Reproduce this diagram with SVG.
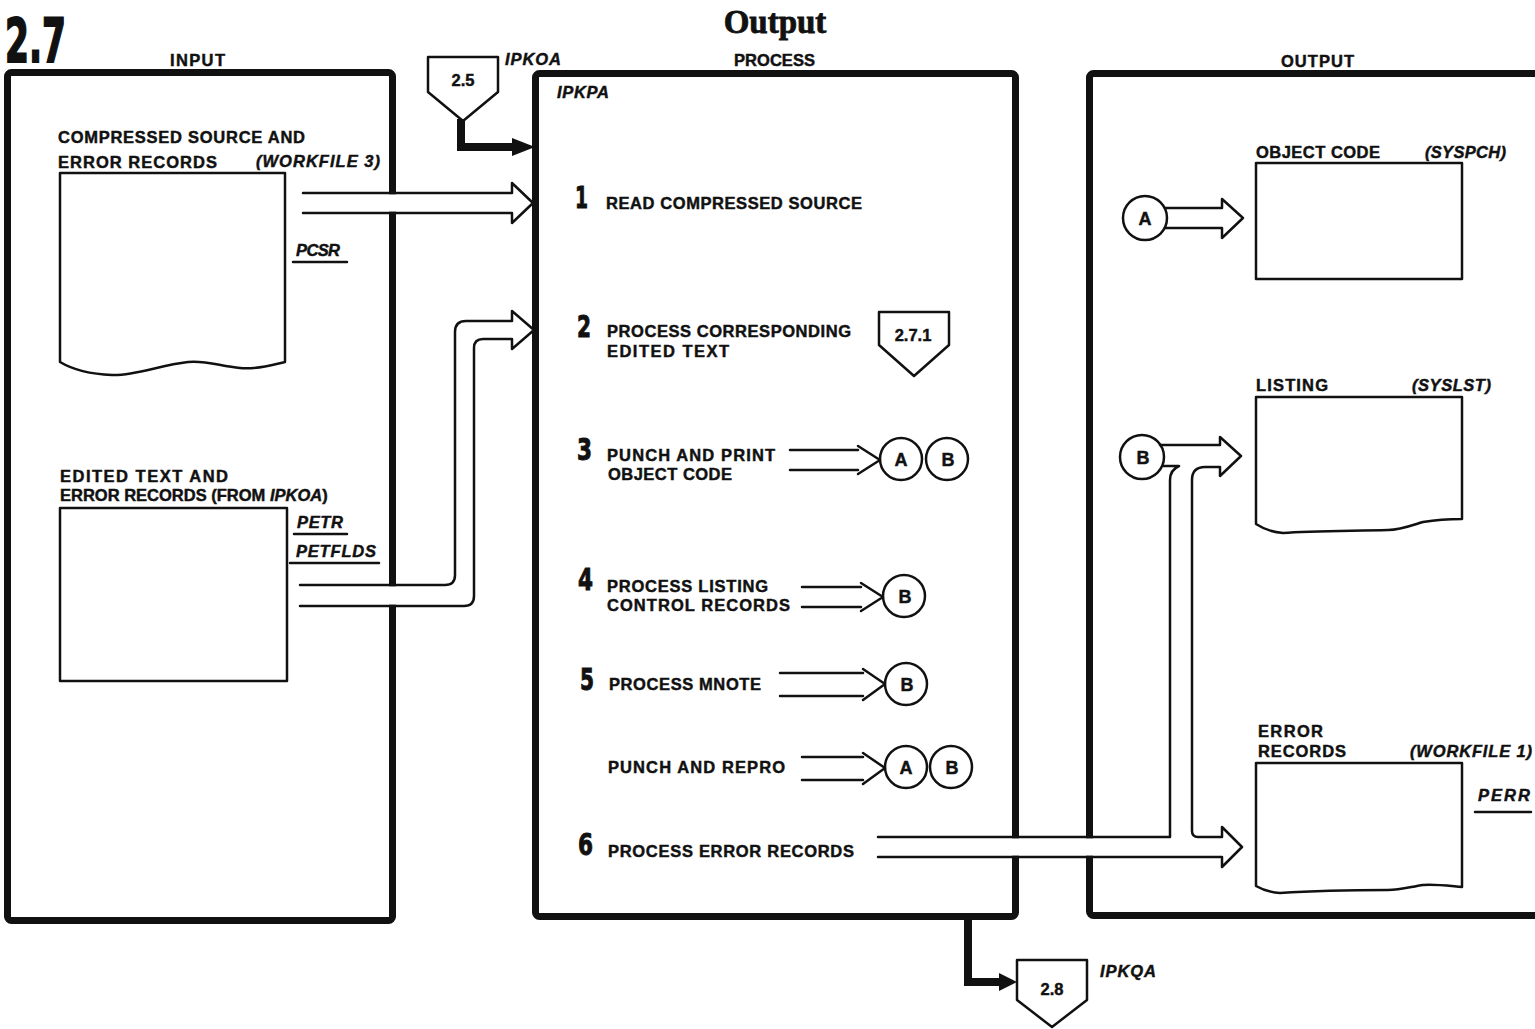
<svg xmlns="http://www.w3.org/2000/svg" width="1535" height="1029" viewBox="0 0 1535 1029">
<style>
.t{font-family:"Liberation Sans",Arial,sans-serif;font-weight:bold;font-size:16.5px;fill:#111;stroke:#111;stroke-width:0.45px}
.i{font-style:italic}
.num{font-family:"DejaVu Sans","Liberation Sans",sans-serif;font-weight:bold;fill:#111;stroke:#111;stroke-width:1px}
.ttl{font-family:"Liberation Serif","Times New Roman",serif;font-weight:bold;font-size:33px;fill:#111;stroke:#111;stroke-width:0.8px}
.box{fill:none;stroke:#111;stroke-width:7}
.ln{fill:none;stroke:#111;stroke-width:2.5;stroke-linejoin:round;stroke-linecap:round}
.doc{fill:#fff;stroke:#111;stroke-width:2.5;stroke-linejoin:round}
.thick{fill:none;stroke:#111;stroke-width:8;stroke-linejoin:miter}
.cut{fill:#fff;stroke:none}
.c{text-anchor:middle}
.L{font-size:18px}
</style>

<g id="titles">
<text class="num" x="5" y="62" font-size="60" textLength="61" lengthAdjust="spacingAndGlyphs" style="stroke-width:2px">2.7</text>
<text class="ttl c" x="775" y="33">Output</text>
<text class="t" x="170" y="66" font-size="15" textLength="55">INPUT</text>
<text class="t" x="734" y="66" font-size="15" textLength="81">PROCESS</text>
<text class="t" x="1281" y="67" font-size="15" textLength="73">OUTPUT</text>
</g>

<g id="input-box">
<rect class="box" x="7.5" y="72.5" width="385" height="848" rx="4"/>
<rect class="cut" x="384" y="194.3" width="17" height="17.4"/>
<rect class="cut" x="384" y="586.3" width="17" height="18.4"/>
</g>
<g id="process-box">
<rect class="box" x="535.5" y="73.5" width="480" height="843" rx="4"/>
<rect class="cut" x="1007" y="838.3" width="17" height="17.4"/>
<text class="t i" x="557" y="98" textLength="52">IPKPA</text>
</g>
<g id="output-box">
<rect class="box" x="1089.5" y="73.5" width="500" height="842" rx="4"/>
<rect class="cut" x="1081" y="838.3" width="17" height="17.4"/>
</g>

<g id="compressed-source">
<text class="t" x="58" y="143" textLength="247">COMPRESSED SOURCE AND</text>
<text class="t" x="58" y="168" textLength="159">ERROR RECORDS</text>
<text class="t i" x="256" y="167" textLength="124">(WORKFILE 3)</text>
<path class="doc" d="M60,173 H285 V362 C275,364 258,370 240,368 C220,366 205,360 188,362 C160,365 135,376 112,375 C88,374 70,368 60,362 Z"/>
<text class="t i" x="296" y="256" textLength="44">PCSR</text>
<line class="ln" x1="293" y1="262" x2="347" y2="262"/>
</g>

<g id="edited-text">
<text class="t" x="60" y="482" textLength="168">EDITED TEXT AND</text>
<text class="t" x="60" y="501"><tspan>ERROR RECORDS (FROM </tspan><tspan class="i">IPKOA</tspan><tspan>)</tspan></text>
<rect class="doc" x="60" y="508" width="227" height="173"/>
<text class="t i" x="297" y="528" textLength="46">PETR</text>
<line class="ln" x1="294" y1="534" x2="347" y2="534"/>
<text class="t i" x="296" y="557" textLength="80">PETFLDS</text>
<line class="ln" x1="290" y1="563" x2="379" y2="563"/>
</g>

<g id="conn-2-5">
<path class="doc" d="M428,57 H498 V92 L463,121 L428,92 Z"/>
<text class="t c" x="463" y="86" font-size="15">2.5</text>
<text class="t i" x="505" y="65" textLength="56">IPKOA</text>
</g>

<g id="conn-2-7-1">
<path class="doc" d="M879,312 H949 V345 L914,376 L879,345 Z"/>
<text class="t c" x="913" y="341" font-size="15">2.7.1</text>
</g>

<g id="conn-2-8">
<path class="doc" d="M1017,960 H1087 V1000 L1052,1027 L1017,1000 Z"/>
<text class="t c" x="1052" y="995" font-size="15">2.8</text>
<text class="t i" x="1100" y="977" textLength="56">IPKQA</text>
</g>

<g id="step1">
<text class="num" x="575" y="208" font-size="30" textLength="13" lengthAdjust="spacingAndGlyphs">1</text>
<text class="t" x="606" y="209" textLength="256">READ COMPRESSED SOURCE</text>
</g>
<g id="step2">
<text class="num" x="577" y="337" font-size="30" textLength="14" lengthAdjust="spacingAndGlyphs">2</text>
<text class="t" x="607" y="337" textLength="244">PROCESS CORRESPONDING</text>
<text class="t" x="607" y="357" textLength="122">EDITED TEXT</text>
</g>
<g id="step3">
<text class="num" x="577" y="460" font-size="30" textLength="15" lengthAdjust="spacingAndGlyphs">3</text>
<text class="t" x="607" y="461" textLength="168">PUNCH AND PRINT</text>
<text class="t" x="608" y="480" textLength="124">OBJECT CODE</text>
</g>
<g id="step4">
<text class="num" x="578" y="590" font-size="30" textLength="15" lengthAdjust="spacingAndGlyphs">4</text>
<text class="t" x="607" y="592" textLength="161">PROCESS LISTING</text>
<text class="t" x="607" y="611" textLength="183">CONTROL RECORDS</text>
</g>
<g id="step5">
<text class="num" x="580" y="690" font-size="30" textLength="14" lengthAdjust="spacingAndGlyphs">5</text>
<text class="t" x="609" y="690" textLength="152">PROCESS MNOTE</text>
</g>
<g id="step-punch-repro">
<text class="t" x="608" y="773" textLength="177">PUNCH AND REPRO</text>
</g>
<g id="step6">
<text class="num" x="578" y="855" font-size="30" textLength="15" lengthAdjust="spacingAndGlyphs">6</text>
<text class="t" x="608" y="857" textLength="246">PROCESS ERROR RECORDS</text>
</g>

<g id="circles">
<g id="s3-A"><circle class="doc" cx="901" cy="459" r="21"/><text class="t c L" x="901" y="465.5">A</text></g>
<g id="s3-B"><circle class="doc" cx="947" cy="459" r="21"/><text class="t c L" x="948" y="465.5">B</text></g>
<g id="s4-B"><circle class="doc" cx="904" cy="596" r="21"/><text class="t c L" x="905" y="602.5">B</text></g>
<g id="s5-B"><circle class="doc" cx="906" cy="684" r="21"/><text class="t c L" x="907" y="690.5">B</text></g>
<g id="pr-A"><circle class="doc" cx="906" cy="767" r="21"/><text class="t c L" x="906" y="773.5">A</text></g>
<g id="pr-B"><circle class="doc" cx="951" cy="767" r="21"/><text class="t c L" x="952" y="773.5">B</text></g>
</g>

<g id="object-code">
<text class="t" x="1256" y="158" textLength="124">OBJECT CODE</text>
<text class="t i" x="1425" y="158" textLength="81">(SYSPCH)</text>
<rect class="doc" x="1256" y="163" width="206" height="116"/>
</g>
<g id="listing">
<text class="t" x="1256" y="391" textLength="72">LISTING</text>
<text class="t i" x="1412" y="391" textLength="79">(SYSLST)</text>
<path class="doc" d="M1256,397 H1462 V519 C1450,519 1435,520 1423,522 C1410,526 1400,530 1388,530 C1350,531 1310,531 1283,533 C1270,532 1262,528 1256,524 Z"/>
</g>
<g id="error-records">
<text class="t" x="1258" y="737" textLength="65">ERROR</text>
<text class="t" x="1258" y="757" textLength="88">RECORDS</text>
<text class="t i" x="1410" y="757" textLength="122">(WORKFILE 1)</text>
<path class="doc" d="M1256,763 H1462 V887 C1450,886 1435,884 1423,885 C1410,887 1400,890 1388,890 C1350,890 1310,891 1280,893 C1268,892 1261,889 1256,886 Z"/>
<text class="t i" x="1478" y="801" textLength="52">PERR</text>
<line class="ln" x1="1475" y1="812" x2="1531" y2="812"/>
</g>

<g id="out-A"><circle class="doc" cx="1145" cy="218" r="22"/><text class="t c L" x="1145" y="224.5">A</text></g>
<g id="out-B"><circle class="doc" cx="1142" cy="457" r="22"/><text class="t c L" x="1143" y="463.5">B</text></g>

<g id="connectors">
<path class="thick" d="M461,119 V147 H515"/>
<path d="M512,138 L535,147 L512,156 Z" fill="#111"/>
<path class="thick" d="M968,916 V982 H1002"/>
<path d="M999,973 L1017,982 L999,991 Z" fill="#111"/>
<path class="ln" d="M303,193 H512 V183 L533,203 L512,223 V213 H303"/>
<path class="ln" d="M300,585 H445 Q455,585 455,575 V332 Q455,321 466,321 H512 V311 L534,330 L512,349 V339 H483 Q474,339 474,348 V596 Q474,606 464,606 H300"/>
<path class="ln" d="M790,450 H858 M790,470 H858 M858,446 L880,460 L858,474"/>
<path class="ln" d="M802,587 H861 M802,607 H861 M861,583 L883,597 L861,611"/>
<path class="ln" d="M780,673 H863 M780,696 H863 M863,669 L885,684 L863,700"/>
<path class="ln" d="M802,757 H863 M802,780 H863 M863,753 L885,768 L863,784"/>
<path class="ln" d="M1165,208 H1222 V199 L1243,218 L1222,238 V228 H1165"/>
<path class="ln" d="M1160,445 H1220 V437 L1241,456 L1220,476 V467 H1205 Q1192,467 1192,480 V831 Q1192,837 1198,837 H1222 V827 L1242,847 L1222,867 V857 H878"/>
<path class="ln" d="M878,837 H1170 V480 Q1170,470 1179,466 H1163"/>
</g>
</svg>
